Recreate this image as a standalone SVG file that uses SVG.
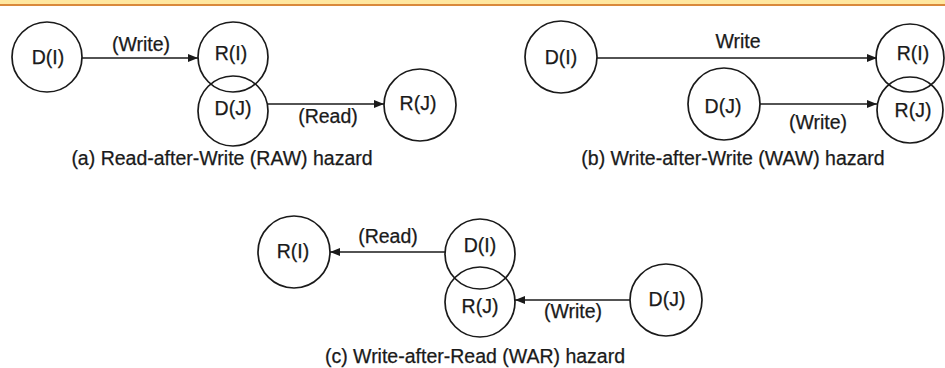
<svg xmlns="http://www.w3.org/2000/svg" width="945" height="368" viewBox="0 0 945 368">
  <defs>
    <marker id="arrow" viewBox="0 0 10 8" refX="10" refY="4" markerWidth="10" markerHeight="8" markerUnits="userSpaceOnUse" orient="auto">
      <path d="M0,0 L10,4 L0,8 Z" fill="#1a1a1a"/>
    </marker>
    <style>
      .node { fill: none; stroke: #1a1a1a; stroke-width: 1.7; }
      .edge { fill: none; stroke: #1a1a1a; stroke-width: 1.5; marker-end: url(#arrow); }
      text { font-family: "Liberation Sans", Arial, sans-serif; font-size: 19.5px; fill: #1a1a1a; stroke: #1a1a1a; stroke-width: 0.25; text-anchor: middle; }
    </style>
  </defs>

  <!-- page background and header band -->
  <rect x="0" y="0" width="945" height="368" fill="#ffffff"/>
  <rect x="0" y="0" width="945" height="4.5" fill="#ffe7a0"/>
  <rect x="0" y="4" width="945" height="2" fill="#d9893c"/>

  <!-- (a) Read-after-Write -->
  <g id="a-DI"><circle class="node" cx="47" cy="57" r="35"/><text x="48" y="64">D(I)</text></g>
  <g id="a-RI"><circle class="node" cx="233" cy="57" r="35"/><text x="231" y="60">R(I)</text></g>
  <g id="a-DJ"><circle class="node" cx="233" cy="111" r="35"/><text x="233" y="115">D(J)</text></g>
  <g id="a-RJ"><circle class="node" cx="420" cy="105" r="36"/><text x="418" y="110">R(J)</text></g>

  <!-- (b) Write-after-Write -->
  <g id="b-DI"><circle class="node" cx="561" cy="57" r="36"/><text x="561" y="64">D(I)</text></g>
  <g id="b-DJ"><circle class="node" cx="724" cy="104" r="36"/><text x="723" y="113">D(J)</text></g>
  <g id="b-RI"><circle class="node" cx="910" cy="58" r="34"/><text x="913" y="60">R(I)</text></g>
  <g id="b-RJ"><circle class="node" cx="910" cy="110" r="33"/><text x="913" y="117">R(J)</text></g>

  <!-- (c) Write-after-Read -->
  <g id="c-RI"><circle class="node" cx="294" cy="252" r="36"/><text x="293" y="258">R(I)</text></g>
  <g id="c-DI"><circle class="node" cx="480" cy="254" r="35"/><text x="480" y="252">D(I)</text></g>
  <g id="c-RJ"><circle class="node" cx="480" cy="302" r="35"/><text x="480" y="313">R(J)</text></g>
  <g id="c-DJ"><circle class="node" cx="666" cy="300" r="36"/><text x="667" y="306">D(J)</text></g>

  <!-- connectors -->
  <g id="connectors">
    <line class="edge" x1="82" y1="58" x2="198" y2="58"/>
    <line class="edge" x1="268" y1="104" x2="384" y2="104"/>
    <line class="edge" x1="597" y1="58" x2="877" y2="58"/>
    <line class="edge" x1="760" y1="104" x2="877" y2="104"/>
    <line class="edge" x1="445" y1="252" x2="330" y2="252"/>
    <line class="edge" x1="630" y1="300" x2="515" y2="300"/>
  </g>

  <!-- connector labels -->
  <g id="labels">
    <text x="141" y="51">(Write)</text>
    <text x="328" y="123">(Read)</text>
    <text x="738" y="48">Write</text>
    <text x="818" y="129">(Write)</text>
    <text x="388" y="243">(Read)</text>
    <text x="573" y="318">(Write)</text>
  </g>

  <!-- captions -->
  <g id="captions">
    <text x="222" y="165">(a) Read-after-Write (RAW) hazard</text>
    <text x="733" y="165">(b) Write-after-Write (WAW) hazard</text>
    <text x="475" y="363">(c) Write-after-Read (WAR) hazard</text>
  </g>
</svg>
